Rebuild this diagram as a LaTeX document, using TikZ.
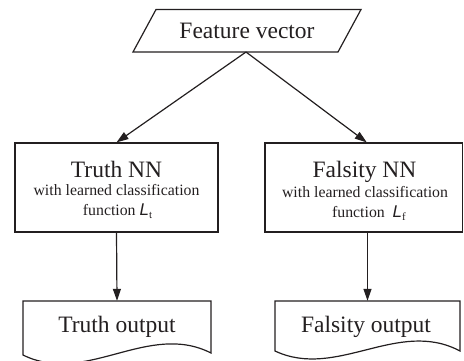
\documentclass[tikz,border=0pt]{standalone}
\usepackage{fontspec}
\setmainfont{Liberation Serif}
\newfontfamily\lsans{Liberation Sans}
\usetikzlibrary{arrows.meta,calc}
\definecolor{ink}{HTML}{231F20}
\tikzset{
  line/.style={draw=ink, line width=1.2pt},
  conn/.style={line, -{Triangle[length=12pt,width=8pt]}},
  boxshape/.style={line, rectangle, inner sep=0pt, minimum height=89pt},
  anchorbox/.style={rectangle, inner sep=0pt},
  bigtxt/.style={anchor=base, text=ink, font=\fontsize{23.5}{26}\selectfont, inner sep=0pt},
  smalltxt/.style={anchor=base, text=ink, font=\fontsize{15.8}{18}\selectfont, inner sep=0pt}
}
\newcommand{\classfn}[1]{{\lsans\itshape\fontsize{17}{18}\selectfont L}\raisebox{-3.5pt}{\fontsize{11}{11}\selectfont #1}}
\begin{document}
\begin{tikzpicture}[x=1pt,y=-1pt]
\useasboundingbox (0,0) rectangle (464,360);

% input: feature vector (parallelogram)
\node[anchorbox, minimum width=205pt, minimum height=42.5pt] (feat) at (247,30.75) {};
\draw[line] (156,9.5) -- (361,9.5) -- (338,52) -- (133,52) -- cycle;
\node[bigtxt] (feattxt) at (247,38.5) {Feature vector};
\coordinate (featbot) at (246,52);

% the two networks
\node[boxshape, minimum width=203pt] (tbox) at (116.5,187.5) {};
\node[boxshape, minimum width=197.5pt] (fbox) at (363.75,187.5) {};
\node[bigtxt] (tnn) at (116.5,177) {Truth NN};
\node[smalltxt] (twl) at (116.5,195.5) {with learned classification};
\node[smalltxt] (tfn) at (117.5,215) {function \classfn{t}};
\node[bigtxt] (fnn) at (364.5,177) {Falsity NN};
\node[smalltxt] (fwl) at (365,197.5) {with learned classification};
\node[smalltxt] (ffn) at (369,217) {function\enspace\classfn{f}};

% outputs (document shapes)
\node[anchorbox, minimum width=188pt, minimum height=54pt] (tout) at (117,328) {};
\draw[line] (23,301) -- (211,301) -- (211,353)
  .. controls (148,321) and (86,386) .. (23,355) -- cycle;
\node[bigtxt] (touttxt) at (117,332) {Truth output};
\node[anchorbox, minimum width=185pt, minimum height=50pt] (fout) at (367.5,326) {};
\draw[line] (275,301) -- (460,301) -- (460,351)
  .. controls (398,318) and (337,380) .. (275,351) -- cycle;
\node[bigtxt] (fouttxt) at (366,332) {Falsity output};

% connectors
\draw[conn] (featbot) -- (tbox.north);
\draw[conn] (featbot) -- ($(fbox.north)+(3,0)$);
\draw[conn] (tbox.south) -- (tout.north);
\draw[conn] (fout.north |- fbox.south) -- (fout.north);
\end{tikzpicture}
\end{document}
